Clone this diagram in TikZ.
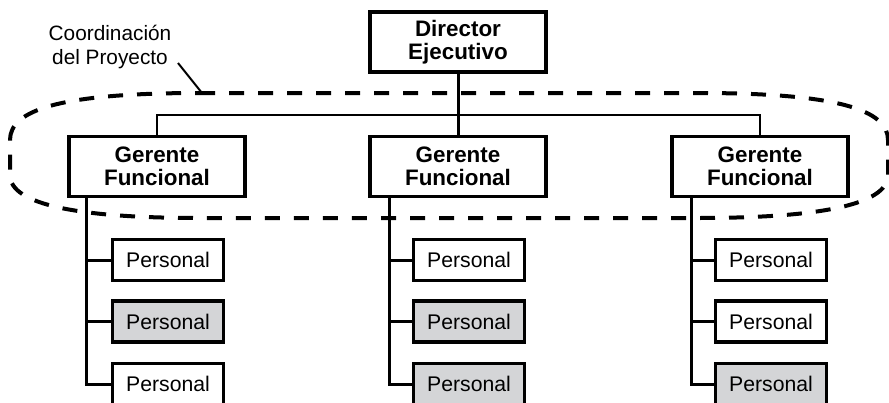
\documentclass[tikz,border=0pt]{standalone}
\usepackage{fontspec}
\setmainfont{Liberation Sans}
\usepackage{tikz}
\usetikzlibrary{calc}
\definecolor{grispersonal}{RGB}{212,213,215}

\begin{document}
\begin{tikzpicture}[x=0.5pt,y=-0.5pt]
\tikzstyle{jefe}=[rectangle,draw=black,line width=1.8pt,minimum width=88pt,minimum height=30pt,inner sep=0pt,align=center,font=\fontsize{11.2}{11.5}\selectfont\bfseries]
\tikzstyle{personal}=[rectangle,draw=black,line width=1.8pt,fill=white,minimum width=55.5pt,minimum height=20.5pt,inner sep=0pt,font=\fontsize{10.6}{12}\selectfont]
\tikzstyle{personalgris}=[personal,fill=grispersonal]
\tikzstyle{rama}=[line width=1.5pt]
\tikzstyle{ovalo}=[line width=2pt,dash pattern=on 7.5pt off 7pt]
\useasboundingbox (0,0) rectangle (889,402);
% ovalo de coordinacion
\draw[ovalo] (200,93) -- (698,93) .. controls (838,93) and (888,110) .. (888,140) -- (888,175) .. controls (888,205) and (818,218) .. (698,218) -- (200,218) .. controls (80,218) and (10,205) .. (10,175) -- (10,140) .. controls (10,110) and (60,93) .. (200,93);
\node[align=center,font=\fontsize{10.4}{12}\selectfont] (coord) at (110,47) {Coordinación\\del Proyecto};
\coordinate (coordfin) at (178,63);
\coordinate (ovalotop) at (202,93);
\draw[line width=1pt] (coordfin) -- (ovalotop);
% jefes
\node[jefe] (dir) at (458,42) {Director\\Ejecutivo};
\node[jefe] (gf1) at (157,166.5) {Gerente\\Funcional};
\node[jefe] (gf2) at (458,166.5) {Gerente\\Funcional};
\node[jefe] (gf3) at (760,166.5) {Gerente\\Funcional};
\coordinate (barra) at (458,115);
\draw[line width=1pt] (gf1.north) |- (barra) -| (gf3.north);
\draw[rama] (dir.south) -- (gf2.north);
% personal
\node[personal] (p11) at (168,260) {Personal};
\node[personalgris] (p12) at (168,321.5) {Personal};
\node[personal] (p13) at (168,384) {Personal};
\node[personal] (p21) at (469,260) {Personal};
\node[personalgris] (p22) at (469,321.5) {Personal};
\node[personalgris] (p23) at (469,384) {Personal};
\node[personal] (p31) at (771,260) {Personal};
\node[personal] (p32) at (771,321.5) {Personal};
\node[personalgris] (p33) at (771,384) {Personal};
\coordinate (t1) at ($(gf1.south west)+(19.5,0)$);
\coordinate (t2) at ($(gf2.south west)+(21.5,0)$);
\coordinate (t3) at ($(gf3.south west)+(21.5,0)$);
\draw[rama] (t1) |- (p13.west);
\draw[rama] (p11.west) -- (p11.west -| t1);
\draw[rama] (p12.west) -- (p12.west -| t1);
\draw[rama] (t2) |- (p23.west);
\draw[rama] (p21.west) -- (p21.west -| t2);
\draw[rama] (p22.west) -- (p22.west -| t2);
\draw[rama] (t3) |- (p33.west);
\draw[rama] (p31.west) -- (p31.west -| t3);
\draw[rama] (p32.west) -- (p32.west -| t3);
\end{tikzpicture}
\end{document}
